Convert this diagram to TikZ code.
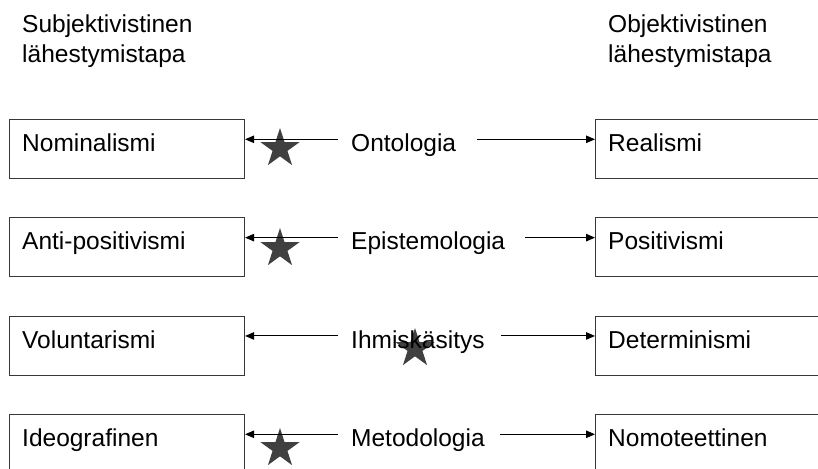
\documentclass[tikz,border=0pt]{standalone}
\usepackage{fontspec}
\setmainfont{Liberation Sans}
\usetikzlibrary{arrows.meta,shapes.geometric}
\definecolor{boxline}{HTML}{383838}
\definecolor{starfill}{HTML}{404040}
\begin{document}
\begin{tikzpicture}[x=1pt,y=-1pt,
  lbl/.style={font=\fontsize{24.5}{30}\selectfont, inner sep=0pt, anchor=base west},
  midlbl/.style={lbl, inner xsep=13pt},
  termbox/.style={draw=boxline, line width=1.1pt, minimum width=235pt,
    minimum height=59pt, inner sep=0pt, anchor=north west},
  link/.style={line width=1pt, -{Triangle[length=9pt,width=7.5pt]}},
  pinstar/.style={star, star points=5, star point ratio=2.62, fill=starfill,
    draw=none, inner sep=0pt, minimum size=41pt}]
\useasboundingbox (0,0) rectangle (818,468);
\clip (0,0) rectangle (818,468);

% column headings
\node[lbl] (hs1) at (22,33) {Subjektivistinen};
\node[lbl] (hs2) at (22,63) {lähestymistapa};
\node[lbl] (ho1) at (608,33) {Objektivistinen};
\node[lbl] (ho2) at (608,63) {lähestymistapa};

% one row per dimension: subjective pole, dimension, objective pole
\foreach \l/\m/\r/\sx/\sy/\rx [count=\i from 0] in {
    Nominalismi/Ontologia/Realismi/280/148.5/477,
    Anti-positivismi/Epistemologia/Positivismi/280/248.5/525,
    Voluntarismi/Ihmiskäsitys/Determinismi/415/348.5/501,
    Ideografinen/Metodologia/Nomoteettinen/280/448.5/500} {
  \pgfmathsetmacro\top{119+98.33*\i}
  \node[termbox] (L\i) at (9,\top) {};
  \node[termbox, minimum width=240pt] (R\i) at (595,\top) {};
  \coordinate (a\i) at (\rx,\top+20.3);
  \node[pinstar] (s\i) at (\sx,\sy) {};
  \node[lbl] (Lt\i) at (22,\top+32.5) {\l};
  \node[lbl] (Rt\i) at (608,\top+32.5) {\r};
  \node[midlbl] (M\i) at (338,\top+32.5) {\m};
  \draw[link] (M\i.west |- a\i) -- (L\i.east |- a\i);
  \draw[link] (a\i) -- (R\i.west |- a\i);
}
\end{tikzpicture}
\end{document}
